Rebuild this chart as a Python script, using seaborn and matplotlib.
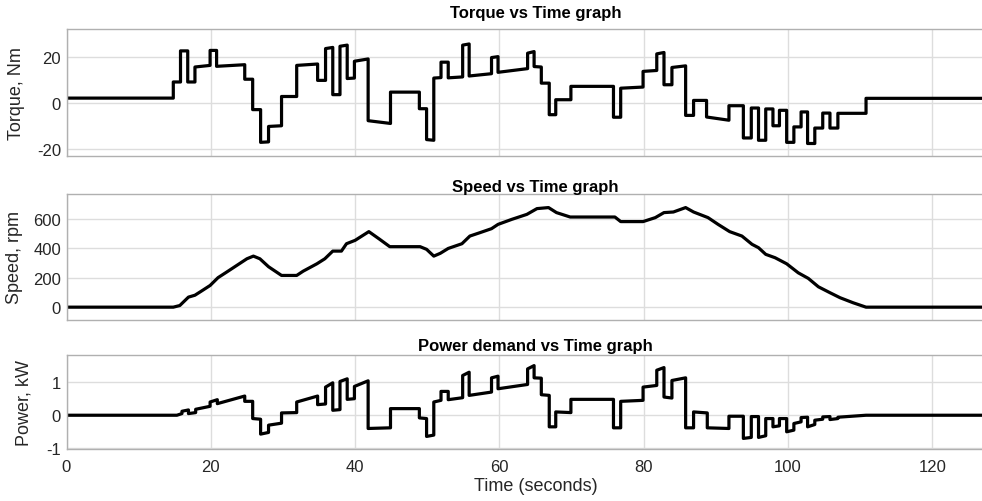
import numpy as np
import pandas as pd
import matplotlib
matplotlib.use("Agg")
import matplotlib.pyplot as plt
import seaborn as sns

# ---------------- data ----------------
# Torque: piecewise segments (start time, value at start, value at end)
torque_t0 = [0, 14.8, 15.8, 16.8, 17.8, 19.9, 20.8, 24.7, 25.8, 26.9, 28.0, 29.8,
             31.9, 34.8, 35.9, 36.9, 37.9, 38.9, 39.9, 41.8, 44.9, 48.9, 49.9,
             50.9, 51.9, 52.9, 54.9, 55.8, 58.9, 59.8, 63.9, 64.8, 65.8, 66.9,
             67.8, 69.9, 75.8, 76.8, 79.9, 81.8, 82.8, 83.9, 85.8, 86.9, 88.7,
             91.8, 93.8, 94.9, 95.9, 96.9, 97.9, 98.8, 99.8, 100.8, 101.8, 102.7,
             103.7, 104.8, 105.8, 106.9, 110.8]
torque_v0 = [2, 9, 22.5, 9, 15.5, 22.7, 15.8, 10.2, -3, -17.2, -10.3, 2.7,
             16.2, 9.7, 23.5, 3.5, 24.5, 10.5, 18.0, -7.8, 4.6, -2.6, -16.0,
             10.7, 17.6, 10.8, 25.0, 11.6, 19.6, 13.2, 21.5, 15.7, 8.5, -5.2,
             1.3, 7.1, -6.3, 6.3, 13.6, 21.2, 7.8, 15.3, -5.5, 1.0, -6.2,
             -1.3, -15.3, -2.3, -16.3, -2.7, -10.0, -3.3, -17.2, -10.5, -4.0, -17.7,
             -11.0, -4.5, -11.0, -4.6, 1.9]
torque_v1 = [2, 9, 22.5, 9, 16.2, 22.7, 16.5, 10.2, -3, -17.0, -10.0, 2.7,
             16.8, 9.7, 24.0, 3.5, 25.0, 10.7, 19.0, -9.0, 4.6, -2.6, -16.3,
             10.9, 17.6, 11.2, 25.5, 12.6, 20.0, 14.8, 22.2, 15.5, 8.5, -5.2,
             1.3, 7.1, -6.3, 6.8, 14.0, 21.8, 7.8, 16.0, -5.5, 1.0, -7.6,
             -1.3, -15.3, -2.3, -16.3, -2.7, -10.0, -3.3, -17.2, -10.5, -4.0, -17.7,
             -11.0, -4.5, -11.0, -4.6, 1.9]

# Speed (rpm)
speed_t = [0, 14.8, 15.7, 16.9, 17.8, 18.7, 19.9, 21.0, 22.2, 23.6, 25.0, 25.9,
           26.8, 28.0, 29.8, 31.9, 32.8, 34.7, 35.8, 36.9, 38.1, 38.8, 40.0,
           41.9, 43.4, 44.8, 49.0, 49.9, 50.9, 51.8, 52.9, 54.8, 55.9, 57.3,
           58.9, 59.8, 61.7, 63.8, 65.2, 66.8, 67.9, 69.8, 76.0, 76.8, 79.9,
           81.6, 82.8, 84.1, 85.8, 86.9, 88.9, 90.3, 91.9, 93.6, 95.0, 95.9,
           96.9, 98.2, 99.8, 101.4, 102.8, 104.2, 105.8, 107.2, 109.0, 110.8, 130]
speed_rpm = [0, 0, 11, 68, 81, 109, 147, 200, 238, 283, 328, 346,
             328, 274, 215, 215, 244, 294, 328, 380, 380, 430, 453,
             512, 460, 410, 410, 392, 346, 365, 398, 430, 482, 505,
             532, 561, 595, 629, 668, 675, 641, 611, 611, 580, 580,
             607, 641, 645, 675, 645, 607, 561, 512, 482, 426, 403,
             358, 335, 294, 233, 195, 138, 98, 64, 30, 0, 0]

# Power: piecewise segments (start time, value at start, value at end)
power_t0 = [0, 15.3, 16.0, 16.9, 17.9, 19.9, 20.9, 24.7, 25.8, 26.9, 28.0, 29.8,
            31.9, 34.8, 35.9, 36.9, 37.9, 38.9, 39.9, 41.8, 44.9, 48.9, 49.9,
            50.9, 51.9, 52.9, 54.9, 55.8, 58.9, 59.8, 63.9, 64.8, 65.8, 66.9,
            67.8, 69.9, 75.8, 76.8, 79.9, 81.8, 82.8, 83.9, 85.8, 86.9, 88.8,
            91.8, 93.8, 94.9, 95.9, 96.9, 97.9, 98.8, 99.8, 100.8, 101.8, 102.7,
            103.7, 104.8, 105.8, 106.9, 110.8]
power_v0 = [0, 0, 0.12, 0.05, 0.18, 0.40, 0.35, 0.42, -0.10, -0.57, -0.30, 0.07,
            0.40, 0.32, 0.85, 0.15, 1.02, 0.48, 0.87, -0.40, 0.20, -0.08, -0.64,
            0.40, 0.72, 0.47, 1.20, 0.60, 1.13, 0.80, 1.40, 1.13, 0.62, -0.35,
            0.10, 0.48, -0.38, 0.42, 0.85, 1.36, 0.55, 1.05, -0.38, 0.10, -0.38,
            -0.03, -0.70, -0.04, -0.67, -0.10, -0.35, -0.10, -0.50, -0.25, -0.07, -0.35,
            -0.15, -0.05, -0.13, -0.06, 0]
power_v1 = [0, 0.05, 0.16, 0.08, 0.27, 0.47, 0.58, 0.42, -0.12, -0.52, -0.24, 0.08,
            0.58, 0.34, 0.98, 0.17, 1.10, 0.50, 1.04, -0.38, 0.20, -0.10, -0.60,
            0.45, 0.72, 0.53, 1.30, 0.70, 1.18, 0.93, 1.50, 1.12, 0.60, -0.35,
            0.08, 0.48, -0.38, 0.45, 0.90, 1.44, 0.52, 1.13, -0.38, 0.07, -0.40,
            -0.03, -0.67, -0.04, -0.62, -0.10, -0.32, -0.10, -0.45, -0.20, -0.06, -0.28,
            -0.12, -0.04, -0.10, 0.0, 0]
t_end = 130

xticks = [0, 20, 40, 60, 80, 100, 120]


def seg_frame(t0, v0, v1, tend):
    starts = list(t0)
    ends = list(t0[1:]) + [tend]
    ts, vs = [], []
    for a, b, p, q in zip(starts, ends, v0, v1):
        ts += [a, b]
        vs += [p, q]
    return pd.DataFrame({"t": ts, "v": vs})


torque_df = seg_frame(torque_t0, torque_v0, torque_v1, t_end)
power_df = seg_frame(power_t0, power_v0, power_v1, t_end)
speed_df = pd.DataFrame({"t": speed_t, "v": speed_rpm})

# ---------------- style ----------------
sns.set_theme(style="whitegrid")
plt.rcParams["font.family"] = ["Liberation Sans", "DejaVu Sans"]
plt.rcParams["axes.unicode_minus"] = False

W, H = 982, 502
fig = plt.figure(figsize=(W / 100, H / 100), dpi=100)

px_per_unit = 7.216
left_px = 66.5
width_px = t_end * px_per_unit


def make_ax(top_px, bottom_px):
    return fig.add_axes([left_px / W, 1 - bottom_px / H, width_px / W, (bottom_px - top_px) / H])


ax1 = make_ax(30, 156.7)
ax2 = make_ax(195.3, 320.7)
ax3 = make_ax(356, 450)

specs = [
    (ax1, torque_df, "Torque vs Time graph", "Torque, Nm", (-23, 32), [-20, 0, 20], 8.6, 25),
    (ax2, speed_df, "Speed vs Time graph", "Speed, rpm", (-85, 765), [0, 200, 400, 600], 2.2, 23),
    (ax3, power_df, "Power demand vs Time graph", "Power, kW", (-1.02, 1.82), [-1, 0, 1], 3.3, 33),
]

for ax, df, title, ylab, ylim, yt, tpad, lab_x in specs:
    sns.lineplot(data=df, x="t", y="v", ax=ax, color="black", linewidth=2.3,
                 estimator=None, sort=False)
    ax.set_xlim(0, t_end)
    ax.set_ylim(*ylim)
    ax.set_xticks(xticks)
    ax.set_yticks(yt)
    ax.set_title(title, fontsize=12, fontweight="bold", pad=tpad, color="black")
    ax.set_ylabel(ylab, fontsize=13, color="#262626")
    ax.set_xlabel("")
    ax.tick_params(axis="both", labelsize=12, labelcolor="#262626", direction="in",
                   length=4, width=0.8, pad=4, color="#999999")
    ax.tick_params(axis="x", pad=7.5)
    for s in ax.spines.values():
        s.set_color("#b0b0b0")
        s.set_linewidth(1.0)
    ax.grid(True, color="#dddddd", linewidth=1.0)
    ax.yaxis.set_label_coords((lab_x - left_px) / width_px, 0.5)

ax1.tick_params(axis="x", labelbottom=False)
ax2.tick_params(axis="x", labelbottom=False)
ax3.set_xlabel("Time (seconds)", fontsize=13, color="#262626", labelpad=2)

fig.savefig("out.png", dpi=100)
